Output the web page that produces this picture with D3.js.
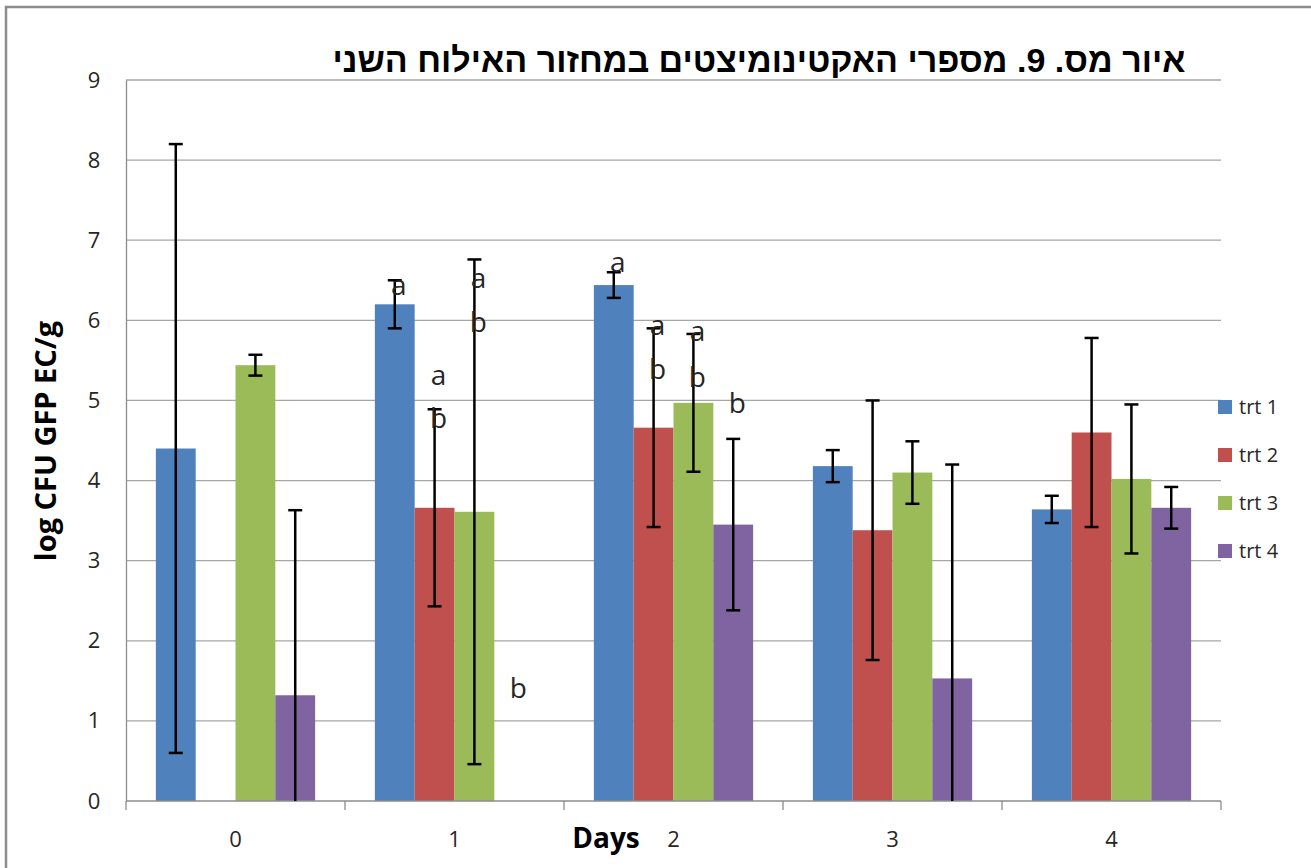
<!DOCTYPE html>
<html><head><meta charset="utf-8">
<script src="https://cdn.jsdelivr.net/npm/d3@7"></script>
<style>body{margin:0;background:#fff}svg{display:block}</style>
</head><body>
<script>
const categories = ["0","1","2","3","4"];
const seriesNames = ["trt 1","trt 2","trt 3","trt 4"];
const trt1 = [4.40, 6.20, 6.44, 4.18, 3.64];
const trt2 = [null, 3.66, 4.66, 3.38, 4.60];
const trt3 = [5.44, 3.61, 4.97, 4.10, 4.02];
const trt4 = [1.32, null, 3.45, 1.53, 3.66];
const err1 = [3.80, 0.30, 0.16, 0.20, 0.17];
const err2 = [null, 1.23, 1.24, 1.62, 1.18];
const err3 = [0.13, 3.15, 0.86, 0.39, 0.93];
const err4 = [2.31, null, 1.07, 2.67, 0.26];
const yTicks = [0,1,2,3,4,5,6,7,8,9];
// letter annotations (category, series index, text, y)
const labelCat = ["1","1","1","1","1","1","2","2","2","2","2","2"];
const labelSer = [0,1,1,2,2,3,0,1,1,2,2,3];
const labelTxt = ["a","a","b","a","b","b","a","a","b","a","b","b"];
const labelVal = [6.44,5.32,4.78,6.53,5.98,1.41,6.72,5.94,5.39,5.86,5.29,4.96];
const titleText = "איור מס. 9. מספרי האקטינומיצטים במחזור האילוח השני";
const xTitle = "Days";
const yTitle = "log CFU GFP EC/g";
const colors = ["#4F81BD","#C0504D","#9BBB59","#8064A2"];

const values = [trt1,trt2,trt3,trt4];
const errs = [err1,err2,err3,err4];

const W = 1311, H = 868;
const svg = d3.select("body").append("svg").attr("width",W).attr("height",H);

svg.append("rect").attr("x",6).attr("y",7).attr("width",1330).attr("height",900)
  .attr("fill","none").attr("stroke","#8c8c8c").attr("stroke-width",2.5);

const pL = 126, pR = 1221, pT = 80, pB = 801;
const x0 = d3.scaleBand().domain(categories).range([pL,pR]);
const gapSide = x0.bandwidth()*0.75/5.5;
const x1 = d3.scaleBand().domain(d3.range(4)).range([gapSide, x0.bandwidth()-gapSide]);
const y = d3.scaleLinear().domain([0,9]).range([pB,pT]);
const FONT = "'Open Sans', 'Noto Sans', sans-serif";

svg.append("g").selectAll("line").data(yTicks.filter(d=>d>0)).join("line")
  .attr("x1",pL).attr("x2",pR).attr("y1",d=>y(d)).attr("y2",d=>y(d))
  .attr("stroke","#a6a6a6").attr("stroke-width",1.3);

const gy = svg.append("g").attr("transform",`translate(${pL},0)`)
  .call(d3.axisLeft(y).tickValues(yTicks).tickSize(0).tickPadding(31));
gy.select(".domain").attr("stroke","#8c8c8c").attr("stroke-width",1.3);
gy.selectAll("text").attr("font-family",FONT).attr("font-size",22).attr("fill","#262626").attr("text-anchor","middle").attr("dx",-1);

seriesNames.forEach((s,si)=>{
  svg.append("g").selectAll("rect")
    .data(categories.filter((c,i)=>values[si][i]!=null))
    .join("rect")
    .attr("x",c=>x0(c)+x1(si)).attr("width",x1.bandwidth())
    .attr("y",c=>y(values[si][categories.indexOf(c)]))
    .attr("height",c=>y(0)-y(values[si][categories.indexOf(c)]))
    .attr("fill",colors[si]);
});

const gx = svg.append("g").attr("transform",`translate(0,${pB})`)
  .call(d3.axisBottom(x0).tickSize(0).tickPadding(30));
gx.select(".domain").remove();
gx.append("line").attr("x1",pL).attr("x2",pR).attr("y1",0).attr("y2",0).attr("stroke","#8c8c8c").attr("stroke-width",1.3);
gx.selectAll(".tickmark").data(d3.range(categories.length+1)).join("line").attr("class","tickmark")
  .attr("x1",i=>pL+i*x0.bandwidth()).attr("x2",i=>pL+i*x0.bandwidth())
  .attr("y1",0).attr("y2",9).attr("stroke","#8c8c8c").attr("stroke-width",1.3);
gx.selectAll(".tick text").attr("font-family",FONT).attr("font-size",22).attr("fill","#262626");

const eg = svg.append("g");
seriesNames.forEach((s,si)=>{
  categories.forEach((c,ci)=>{
    const v = values[si][ci], e = errs[si][ci];
    if (v==null || e==null) return;
    const cx = x0(c)+x1(si)+x1.bandwidth()/2;
    const hi = v+e, lo = Math.max(0, v-e);
    eg.append("line").attr("x1",cx).attr("x2",cx).attr("y1",y(hi)).attr("y2",y(lo))
      .attr("stroke","#000").attr("stroke-width",2.5);
    eg.append("line").attr("x1",cx-7).attr("x2",cx+7).attr("y1",y(hi)).attr("y2",y(hi))
      .attr("stroke","#000").attr("stroke-width",2.5);
    if (v-e>0) eg.append("line").attr("x1",cx-7).attr("x2",cx+7).attr("y1",y(lo)).attr("y2",y(lo))
      .attr("stroke","#000").attr("stroke-width",2.5);
  });
});

svg.append("g").selectAll("text").data(labelTxt).join("text")
  .attr("x",(d,i)=>x0(labelCat[i])+x1(labelSer[i])+x1.bandwidth()/2+4)
  .attr("y",(d,i)=>y(labelVal[i]))
  .attr("dy","0.35em").attr("text-anchor","middle")
  .attr("font-family",FONT).attr("font-size",28).attr("fill","#262626")
  .text(d=>d);

const lg = svg.append("g").attr("transform","translate(1218,407)");
seriesNames.forEach((s,i)=>{
  lg.append("rect").attr("x",0).attr("y",i*48-7).attr("width",14).attr("height",14).attr("fill",colors[i]);
  lg.append("text").attr("x",21).attr("y",i*48).attr("dy","0.35em")
    .attr("font-family",FONT).attr("font-size",20).attr("fill","#262626").text(s);
});

svg.append("text").attr("x",759).attr("y",60).attr("dy","0.35em").attr("text-anchor","middle")
  .attr("direction","rtl").attr("font-family","'Liberation Sans', 'DejaVu Sans', sans-serif").attr("font-weight","bold")
  .attr("font-size",34).attr("fill","#000").text(titleText);
svg.append("text").attr("x",606).attr("y",838).attr("dy","0.35em").attr("text-anchor","middle")
  .attr("font-family",FONT).attr("font-weight","bold").attr("font-size",28).attr("fill","#000").text(xTitle);
svg.append("text").attr("transform","translate(46,441) rotate(-90)").attr("dy","0.35em").attr("text-anchor","middle")
  .attr("font-family",FONT).attr("font-weight","bold").attr("font-size",29).attr("fill","#000").text(yTitle);
</script>
</body></html>
